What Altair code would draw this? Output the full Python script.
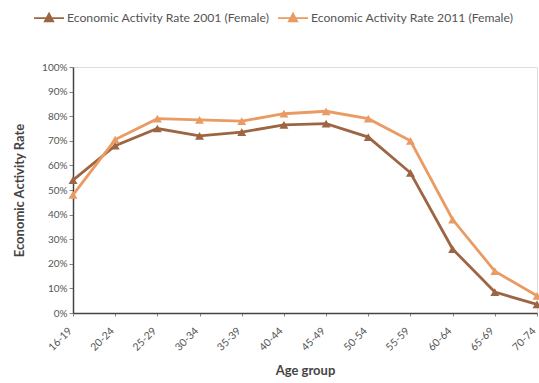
import altair as alt
import pandas as pd

age_groups = ["16-19", "20-24", "25-29", "30-34", "35-39", "40-44",
              "45-49", "50-54", "55-59", "60-64", "65-69", "70-74"]
rate_2001 = [0.54, 0.68, 0.75, 0.72, 0.735, 0.765, 0.77, 0.715, 0.57, 0.26, 0.085, 0.035]
rate_2011 = [0.48, 0.705, 0.79, 0.785, 0.78, 0.81, 0.82, 0.79, 0.70, 0.38, 0.17, 0.07]
series_names = ["Economic Activity Rate 2001 (Female)",
                "Economic Activity Rate 2011 (Female)"]
series_colors = ["#9E6542", "#E99B63"]

rows = []
for name, values in zip(series_names, [rate_2001, rate_2011]):
    for age, v in zip(age_groups, values):
        rows.append({"age": age, "rate": v, "series": name})
df = pd.DataFrame(rows)

font = "Lato"

chart = (
    alt.Chart(df)
    .mark_line(point=alt.OverlayMarkDef(shape="triangle-up", size=80, filled=True, opacity=1),
               strokeWidth=2.8)
    .encode(
        x=alt.X("age:N", sort=age_groups, scale=alt.Scale(type="point", padding=0),
                title="Age group",
                axis=alt.Axis(labelAngle=-45, labelAlign="right", labelBaseline="middle",
                              labelFontSize=10.5, labelColor="#555", labelFont=font,
                              labelPadding=13, labelOffset=-3, tickColor="#888", tickSize=3,
                              domainColor="#444", domainWidth=1.5,
                              titleFont=font, titleFontSize=13, titleY=51,
                              titleFontWeight="bold", titleColor="#444",
                              grid=False)),
        y=alt.Y("rate:Q", scale=alt.Scale(domain=[0, 1], nice=False),
                title="Economic Activity Rate",
                axis=alt.Axis(format=".0%", values=[i / 10 for i in range(11)],
                              labelFontSize=10, labelColor="#555", labelFont=font,
                              tickColor="#888", tickSize=4, domainColor="#444",
                              domainWidth=1.5,
                              titleFont=font, titleFontSize=13, titleFontWeight="bold",
                              titleColor="#444", titlePadding=15, grid=False)),
        color=alt.Color("series:N", sort=series_names,
                        scale=alt.Scale(domain=series_names, range=series_colors),
                        legend=alt.Legend(title=None, orient="none", direction="horizontal",
                                          legendX=-40, legendY=-65,
                                          labelFont=font, labelFontSize=12.2, labelColor="#555",
                                          labelLimit=400,
                                          symbolType="M-1,0H1M0,-0.3L0.28,0.22H-0.28Z",
                                          symbolSize=900, symbolStrokeWidth=1.8,
                                          columnPadding=4, labelOffset=2)),
    )
    .properties(
        width=464, height=246,
        autosize=alt.AutoSizeParams(type="none"),
        padding={"left": 73, "top": 67, "right": 2, "bottom": 70},
    )
    .configure_view(stroke="#888", strokeWidth=1)
    .configure(background="white")
)

chart.save("out.html", embed_options={"renderer": "svg", "actions": False})
